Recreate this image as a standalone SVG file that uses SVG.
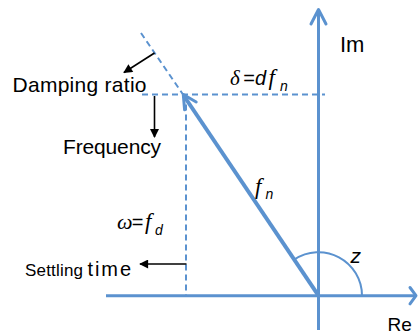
<svg xmlns="http://www.w3.org/2000/svg" width="418" height="335" viewBox="0 0 418 335">
<style>
.ax{stroke:#5B92CF;stroke-width:3;fill:none;stroke-linecap:butt}
.ah{stroke:#5B92CF;stroke-width:3;fill:none;stroke-linecap:round;stroke-linejoin:round}
.dash{stroke:#5B92CF;stroke-width:2;fill:none;stroke-dasharray:6 4}
.blk{stroke:#000;stroke-width:1.6;fill:none}
.t{font-family:"Liberation Sans",Arial,sans-serif;fill:#000}
.it{font-family:"Liberation Sans",Arial,sans-serif;font-style:italic;fill:#000}
.si{font-family:"Liberation Serif","Times New Roman",serif;font-style:italic;fill:#000}
</style>
<defs>
<marker id="tri" viewBox="0 0 10 10" refX="9" refY="5" markerWidth="10" markerHeight="9" markerUnits="userSpaceOnUse" orient="auto">
<path d="M0,0 L10,5 L0,10 Z" fill="#000"/>
</marker>
</defs>
<g id="connectors">
<line class="dash" x1="141" y1="33" x2="183" y2="94.5"/>
<line class="dash" x1="142" y1="94.5" x2="325" y2="94.5"/>
<line class="dash" x1="186" y1="94.5" x2="186" y2="295"/>
<line class="ax" x1="106" y1="295.7" x2="415" y2="295.7"/>
<polyline class="ah" points="410,287.5 416,295.7 410,303.9"/>
<line class="ax" x1="318.5" y1="330" x2="318.5" y2="10"/>
<polyline class="ah" points="311,24 318.5,9.5 326,24"/>
<line stroke="#5B92CF" stroke-width="4" x1="318.5" y1="295.7" x2="184" y2="96"/>
<polyline class="ah" points="184.6,109.8 183.3,94.5 196.2,102"/>
<path d="M362 295.7 A43.5 43.5 0 0 0 294.2 259.6" stroke="#5B92CF" stroke-width="2" fill="none"/>
<line class="blk" x1="154.5" y1="53" x2="124" y2="72.5" marker-end="url(#tri)"/>
<line class="blk" x1="154.5" y1="96" x2="154.5" y2="137" marker-end="url(#tri)"/>
<line class="blk" x1="186.5" y1="264" x2="140" y2="264" marker-end="url(#tri)"/>
</g>
<g id="damping"><text class="t" x="12.5" y="91.5" font-size="21" textLength="134">Damping ratio</text></g>
<g id="frequency"><text class="t" x="63" y="154" font-size="21" textLength="98">Frequency</text></g>
<g id="settling"><text class="t" y="276"><tspan x="25" font-size="17" textLength="58">Settling</tspan><tspan x="87.5" font-size="20" textLength="43.5">time</tspan></text></g>
<g id="im"><text class="t" x="340" y="52" font-size="22">Im</text></g>
<g id="re"><text class="t" x="387.5" y="331" font-size="19">Re</text></g>
<g id="z"><text class="it" x="350.5" y="263" font-size="21">z</text></g>
<g id="fn"><text y="194"><tspan class="si" x="255" font-size="23">f</tspan><tspan class="it" x="265.5" y="198.5" font-size="14">n</tspan></text></g>
<g id="delta"><text y="85"><tspan class="si" x="230" font-size="21">δ</tspan><tspan class="t" x="243.3" font-size="20">=</tspan><tspan class="it" x="255" font-size="20">d</tspan><tspan class="si" x="268.5" font-size="23">f</tspan><tspan class="it" x="280" y="90.5" font-size="14">n</tspan></text></g>
<g id="omega"><text y="228.5"><tspan class="si" x="117" font-size="22">ω</tspan><tspan class="t" x="131.7" font-size="20">=</tspan><tspan class="si" x="145" font-size="23">f</tspan><tspan class="it" x="155" y="235" font-size="14">d</tspan></text></g>
</svg>
